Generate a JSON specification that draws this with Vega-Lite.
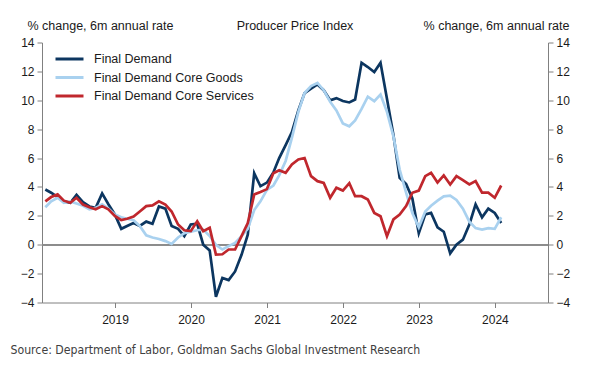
{
  "$schema": "https://vega.github.io/schema/vega-lite/v6.json",
  "width": 506,
  "height": 260,
  "autosize": {"type": "none"},
  "padding": {"left": 42, "top": 42.5, "right": 45, "bottom": 75.5},
  "background": "white",
  "title": {"text": "Producer Price Index", "anchor": "middle", "frame": "group", "fontSize": 12.5, "fontWeight": "normal", "font": "Liberation Sans", "color": "#1a1a1a", "dy": 17},
  "data": {"values": [
    {"date": "2018-01-31", "fd": 3.82, "goods": 2.6, "services": 3.0},
    {"date": "2018-02-28", "fd": 3.6, "goods": 3.0, "services": 3.3},
    {"date": "2018-03-31", "fd": 3.3, "goods": 3.25, "services": 3.48},
    {"date": "2018-04-30", "fd": 3.0, "goods": 2.9, "services": 3.05},
    {"date": "2018-05-31", "fd": 2.9, "goods": 3.0, "services": 2.9},
    {"date": "2018-06-30", "fd": 3.45, "goods": 2.85, "services": 3.25},
    {"date": "2018-07-31", "fd": 2.95, "goods": 2.7, "services": 2.78},
    {"date": "2018-08-31", "fd": 2.65, "goods": 2.45, "services": 2.6},
    {"date": "2018-09-30", "fd": 2.55, "goods": 2.55, "services": 2.45},
    {"date": "2018-10-31", "fd": 3.55, "goods": 2.8, "services": 2.67},
    {"date": "2018-11-30", "fd": 2.8, "goods": 2.5, "services": 2.45},
    {"date": "2018-12-31", "fd": 2.1, "goods": 2.1, "services": 2.0},
    {"date": "2019-01-31", "fd": 1.1, "goods": 1.9, "services": 1.7},
    {"date": "2019-02-28", "fd": 1.3, "goods": 1.8, "services": 1.8},
    {"date": "2019-03-31", "fd": 1.5, "goods": 1.7, "services": 1.95},
    {"date": "2019-04-30", "fd": 1.3, "goods": 1.3, "services": 2.3},
    {"date": "2019-05-31", "fd": 1.6, "goods": 0.65, "services": 2.67},
    {"date": "2019-06-30", "fd": 1.45, "goods": 0.5, "services": 2.72},
    {"date": "2019-07-31", "fd": 2.65, "goods": 0.4, "services": 3.0},
    {"date": "2019-08-31", "fd": 2.5, "goods": 0.25, "services": 2.78},
    {"date": "2019-09-30", "fd": 1.3, "goods": 0.05, "services": 2.3},
    {"date": "2019-10-31", "fd": 1.1, "goods": 0.5, "services": 1.4},
    {"date": "2019-11-30", "fd": 0.6, "goods": 0.8, "services": 1.0},
    {"date": "2019-12-31", "fd": 1.4, "goods": 0.9, "services": 0.94},
    {"date": "2020-01-31", "fd": 1.45, "goods": 1.0, "services": 1.63},
    {"date": "2020-02-29", "fd": 0.0, "goods": 1.05, "services": 0.94},
    {"date": "2020-03-31", "fd": -0.4, "goods": 0.6, "services": 1.17},
    {"date": "2020-04-30", "fd": -3.6, "goods": 0.0, "services": -0.68},
    {"date": "2020-05-31", "fd": -2.3, "goods": -0.33, "services": -0.66},
    {"date": "2020-06-30", "fd": -2.45, "goods": -0.1, "services": -0.33},
    {"date": "2020-07-31", "fd": -1.85, "goods": 0.13, "services": -0.33},
    {"date": "2020-08-31", "fd": -0.7, "goods": 0.6, "services": 0.6},
    {"date": "2020-09-30", "fd": 0.7, "goods": 1.1, "services": 1.5},
    {"date": "2020-10-31", "fd": 4.95, "goods": 2.4, "services": 3.48},
    {"date": "2020-11-30", "fd": 4.05, "goods": 3.0, "services": 3.65},
    {"date": "2020-12-31", "fd": 4.3, "goods": 3.8, "services": 3.85},
    {"date": "2021-01-31", "fd": 5.0, "goods": 4.1, "services": 4.95},
    {"date": "2021-02-28", "fd": 6.0, "goods": 4.8, "services": 5.16},
    {"date": "2021-03-31", "fd": 6.9, "goods": 5.8, "services": 4.98},
    {"date": "2021-04-30", "fd": 7.8, "goods": 7.4, "services": 5.55},
    {"date": "2021-05-31", "fd": 9.3, "goods": 9.2, "services": 5.9},
    {"date": "2021-06-30", "fd": 10.5, "goods": 10.5, "services": 6.0},
    {"date": "2021-07-31", "fd": 10.8, "goods": 10.98, "services": 4.75},
    {"date": "2021-08-31", "fd": 11.1, "goods": 11.2, "services": 4.4},
    {"date": "2021-09-30", "fd": 10.7, "goods": 10.7, "services": 4.28},
    {"date": "2021-10-31", "fd": 10.0, "goods": 9.9, "services": 3.25},
    {"date": "2021-11-30", "fd": 10.15, "goods": 9.3, "services": 3.94},
    {"date": "2021-12-31", "fd": 9.95, "goods": 8.4, "services": 3.75},
    {"date": "2022-01-31", "fd": 9.85, "goods": 8.2, "services": 4.26},
    {"date": "2022-02-28", "fd": 10.05, "goods": 8.6, "services": 3.36},
    {"date": "2022-03-31", "fd": 12.6, "goods": 9.4, "services": 3.36},
    {"date": "2022-04-30", "fd": 12.3, "goods": 10.25, "services": 3.13},
    {"date": "2022-05-31", "fd": 11.95, "goods": 9.94, "services": 2.2},
    {"date": "2022-06-30", "fd": 12.6, "goods": 10.4, "services": 1.97},
    {"date": "2022-07-31", "fd": 10.1, "goods": 9.2, "services": 0.59},
    {"date": "2022-08-31", "fd": 7.6, "goods": 7.5, "services": 1.75},
    {"date": "2022-09-30", "fd": 4.63, "goods": 5.2, "services": 2.09},
    {"date": "2022-10-31", "fd": 4.2, "goods": 3.6, "services": 2.67},
    {"date": "2022-11-30", "fd": 3.2, "goods": 2.2, "services": 3.6},
    {"date": "2022-12-31", "fd": 0.8, "goods": 1.2, "services": 3.75},
    {"date": "2023-01-31", "fd": 2.1, "goods": 2.3, "services": 4.75},
    {"date": "2023-02-28", "fd": 2.2, "goods": 2.7, "services": 4.98},
    {"date": "2023-03-31", "fd": 1.2, "goods": 3.05, "services": 4.3},
    {"date": "2023-04-30", "fd": 0.9, "goods": 3.35, "services": 4.8},
    {"date": "2023-05-31", "fd": -0.6, "goods": 3.4, "services": 4.17},
    {"date": "2023-06-30", "fd": 0.0, "goods": 3.1, "services": 4.75},
    {"date": "2023-07-31", "fd": 0.35, "goods": 2.5, "services": 4.47},
    {"date": "2023-08-31", "fd": 1.4, "goods": 1.6, "services": 4.17},
    {"date": "2023-09-30", "fd": 2.8, "goods": 1.15, "services": 4.4},
    {"date": "2023-10-31", "fd": 1.9, "goods": 1.05, "services": 3.6},
    {"date": "2023-11-30", "fd": 2.5, "goods": 1.15, "services": 3.6},
    {"date": "2023-12-31", "fd": 2.2, "goods": 1.1, "services": 3.25},
    {"date": "2024-01-31", "fd": 1.5, "goods": 1.9, "services": 4.1}
  ]},
  "transform": [{"fold": ["fd", "goods", "services"], "as": ["series", "value"]}],
  "layer": [
    {
      "mark": {"type": "rule", "color": "#8c8c8c", "strokeWidth": 1},
      "encoding": {
        "y": {"datum": 0, "type": "quantitative",
          "scale": {"domain": [-4, 14], "nice": false, "zero": false},
          "axis": {"orient": "right", "values": [-4, -2, 0, 2, 4, 6, 8, 10, 12, 14], "title": "% change, 6m annual rate", "titleAngle": 0, "titleAlign": "right", "titleBaseline": "middle", "titleX": 21, "titleY": -17.5, "labelPadding": 3}}
      }
    },
    {
      "mark": {"type": "line", "strokeWidth": 2.7, "clip": true},
      "encoding": {
        "x": {"field": "date", "type": "temporal",
          "scale": {"domain": [{"year": 2018, "month": 1, "date": 15}, {"year": 2024, "month": 9, "date": 12}]},
          "axis": {"orient": "bottom", "values": [{"year": 2019, "month": 1, "date": 1}, {"year": 2020, "month": 1, "date": 1}, {"year": 2021, "month": 1, "date": 1}, {"year": 2022, "month": 1, "date": 1}, {"year": 2023, "month": 1, "date": 1}, {"year": 2024, "month": 1, "date": 1}],
            "format": "%Y", "labelPadding": 7,
            "title": "Source: Department of Labor, Goldman Sachs Global Investment Research",
            "titleFont": "DejaVu Sans Condensed, Liberation Sans Narrow, sans-serif", "titleFontSize": 12.2, "titleColor": "#404040", "titleAnchor": "start", "titleAlign": "left", "titleBaseline": "middle", "titleX": -32, "titleY": 46.5}},
        "y": {"field": "value", "type": "quantitative",
          "scale": {"domain": [-4, 14], "nice": false, "zero": false},
          "axis": {"orient": "left", "values": [-4, -2, 0, 2, 4, 6, 8, 10, 12, 14], "title": "% change, 6m annual rate", "titleAngle": 0, "titleAlign": "left", "titleBaseline": "middle", "titleX": -15, "titleY": -17.5, "labelPadding": 3}},
        "color": {"field": "series", "type": "nominal",
          "scale": {"domain": ["fd", "goods", "services"], "range": ["#0c3660", "#a9d1ef", "#c0272d"]},
          "legend": {"orient": "none", "legendX": 19, "legendY": 8, "title": null, "padding": 0,
            "symbolType": "M-2,0H2", "symbolSize": 196, "symbolStrokeWidth": 3,
            "labelFontSize": 12.5, "labelFont": "Liberation Sans", "labelColor": "#1a1a1a", "labelOffset": 16, "rowPadding": 3.5,
            "labelExpr": "datum.label == 'fd' ? 'Final Demand' : datum.label == 'goods' ? 'Final Demand Core Goods' : 'Final Demand Core Services'"}}
      }
    }
  ],
  "resolve": {"axis": {"y": "independent"}},
  "config": {
    "view": {"stroke": null},
    "font": "Liberation Sans",
    "axis": {"grid": false, "domainColor": "#808080", "tickColor": "#808080", "tickSize": 5, "labelFontSize": 12, "labelColor": "#1a1a1a", "labelFont": "Liberation Sans", "titleFont": "Liberation Sans", "titleFontWeight": "normal", "titleFontSize": 12.5, "titleColor": "#1a1a1a"}
  }
}
